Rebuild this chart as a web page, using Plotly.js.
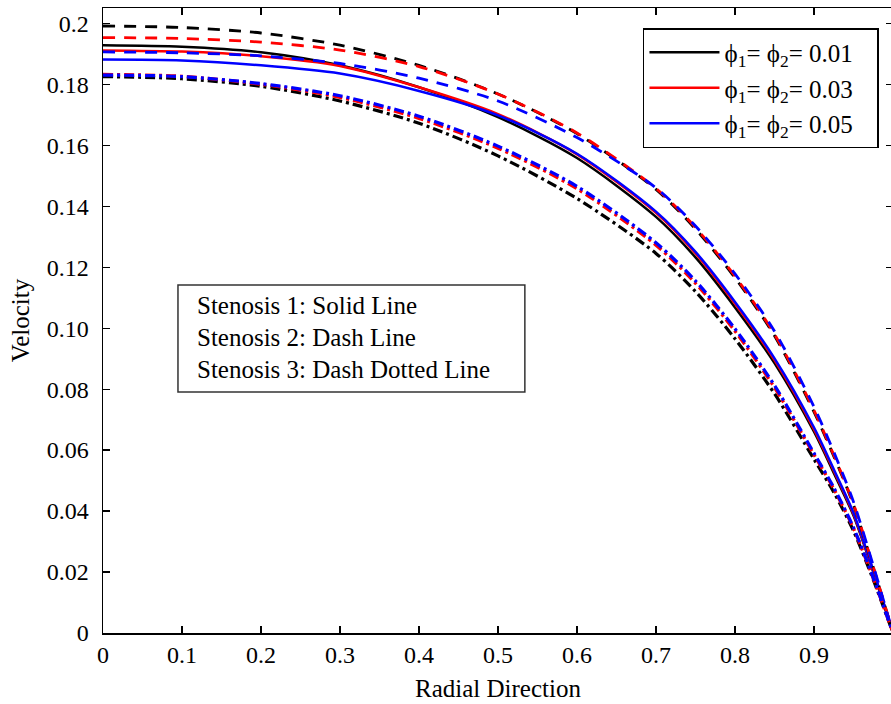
<!DOCTYPE html>
<html>
<head>
<meta charset="utf-8">
<script src="https://cdn.plot.ly/plotly-3.0.1.min.js"></script>
<style>
html,body{margin:0;padding:0;overflow:hidden;background:#fff;}
#chart{width:893px;height:704px;}
</style>
</head>
<body>
<div id="chart"></div>
<script>
// Radial positions (shared by all curves)
const radial = [0, 0.1, 0.2, 0.3, 0.4, 0.5, 0.6, 0.7, 0.75, 0.8, 0.85, 0.9, 0.925, 0.95, 0.975, 1.0];

// Stenosis 1 (solid)
const s1_phi001 = [0.1928, 0.1923, 0.1905, 0.1862, 0.1790, 0.1692, 0.1558, 0.1365, 0.1232, 0.1068, 0.0885, 0.0660, 0.0525, 0.0385, 0.0200, 0];
const s1_phi003 = [0.1911, 0.1907, 0.1892, 0.1860, 0.1790, 0.1702, 0.1570, 0.1378, 0.1245, 0.1080, 0.0895, 0.0668, 0.0532, 0.0390, 0.0203, 0];
const s1_phi005 = [0.1881, 0.1878, 0.1862, 0.1835, 0.1778, 0.1698, 0.1572, 0.1382, 0.1250, 0.1086, 0.0901, 0.0674, 0.0537, 0.0394, 0.0205, 0];

// Stenosis 2 (dash)
const s2_phi001 = [0.1991, 0.1986, 0.1968, 0.1928, 0.1862, 0.1768, 0.1638, 0.1455, 0.1325, 0.1165, 0.0975, 0.0725, 0.0580, 0.0420, 0.0215, 0];
const s2_phi003 = [0.1953, 0.1950, 0.1938, 0.1912, 0.1858, 0.1768, 0.1640, 0.1458, 0.1330, 0.1170, 0.0980, 0.0730, 0.0584, 0.0423, 0.0217, 0];
const s2_phi005 = [0.1906, 0.1903, 0.1893, 0.1868, 0.1820, 0.1745, 0.1625, 0.1460, 0.1335, 0.1178, 0.0990, 0.0742, 0.0594, 0.0430, 0.0221, 0];

// Stenosis 3 (dash-dot)
const s3_phi001 = [0.1825, 0.1818, 0.1793, 0.1745, 0.1672, 0.1565, 0.1425, 0.1245, 0.1120, 0.0965, 0.0785, 0.0570, 0.0462, 0.0335, 0.0175, 0];
const s3_phi003 = [0.1832, 0.1826, 0.1800, 0.1757, 0.1688, 0.1590, 0.1457, 0.1272, 0.1147, 0.0990, 0.0805, 0.0585, 0.0473, 0.0343, 0.0179, 0];
const s3_phi005 = [0.1830, 0.1825, 0.1802, 0.1762, 0.1695, 0.1597, 0.1465, 0.1280, 0.1155, 0.0998, 0.0812, 0.0590, 0.0477, 0.0346, 0.0181, 0];

const legendNames = ['ϕ<sub>1</sub>= ϕ<sub>2</sub>= 0.01', 'ϕ<sub>1</sub>= ϕ<sub>2</sub>= 0.03', 'ϕ<sub>1</sub>= ϕ<sub>2</sub>= 0.05'];
const colors = ['#000000', '#ff0000', '#0000ff'];

const xTickVals = [0, 0.1, 0.2, 0.3, 0.4, 0.5, 0.6, 0.7, 0.8, 0.9];
const xTickText = ['0', '0.1', '0.2', '0.3', '0.4', '0.5', '0.6', '0.7', '0.8', '0.9'];
const yTickVals = [0, 0.02, 0.04, 0.06, 0.08, 0.10, 0.12, 0.14, 0.16, 0.18, 0.2];
const yTickText = ['0', '0.02', '0.04', '0.06', '0.08', '0.10', '0.12', '0.14', '0.16', '0.18', '0.2'];

const noteLines = ['Stenosis 1: Solid Line', 'Stenosis 2: Dash Line', 'Stenosis 3: Dash Dotted Line'];

const groups = [
  {ys: [s1_phi001, s1_phi003, s1_phi005], dash: 'solid', width: 2.5, legend: true},
  {ys: [s2_phi001, s2_phi003, s2_phi005], dash: '12px,9px', width: 2.8, legend: false},
  {ys: [s3_phi001, s3_phi003, s3_phi005], dash: '10px,4px,3px,4px', width: 3.2, legend: false}
];

const traces = [];
groups.forEach(function(g){
  g.ys.forEach(function(y, i){
    traces.push({
      x: radial, y: y, type: 'scatter', mode: 'lines',
      name: legendNames[i] + '\u00a0\u00a0\u00a0',
      showlegend: g.legend,
      line: {color: colors[i], width: g.width, dash: g.dash, shape: 'spline', smoothing: 0.8},
      hoverinfo: 'skip'
    });
  });
});

const FF = 'Liberation Serif';

const noteY = [0.5248, 0.4736, 0.4208];
const annotations = noteLines.map(function(t, i){
  return {xref: 'paper', yref: 'paper', x: 0.1165, y: noteY[i], xanchor: 'left', yanchor: 'middle',
          text: t, showarrow: false, font: {family: FF, size: 25, color: '#000'}};
});

const layout = {
  width: 893, height: 704,
  margin: {l: 103, r: 0, t: 8, b: 71},
  paper_bgcolor: '#fff', plot_bgcolor: '#fff',
  font: {family: FF, color: '#000', size: 24},
  showlegend: true,
  legend: {
    x: 0.6835, y: 0.968, xanchor: 'left', yanchor: 'top',
    bgcolor: '#fff', bordercolor: '#000', borderwidth: 1.5,
    font: {family: FF, size: 25, color: '#000'},
    itemwidth: 70, tracegroupgap: 0
  },
  xaxis: {
    range: [0, 1], showgrid: false, zeroline: false,
    showline: true, linecolor: '#000', linewidth: 1.5, mirror: 'ticks',
    ticks: 'inside', ticklen: 7, tickwidth: 1.2, tickcolor: '#000',
    tickvals: xTickVals, ticktext: xTickText,
    tickfont: {family: FF, size: 24, color: '#000'},
    title: {text: 'Radial Direction', font: {family: FF, size: 25, color: '#000'}, standoff: 12}
  },
  yaxis: {
    range: [0, 0.205], showgrid: false, zeroline: false,
    showline: true, linecolor: '#000', linewidth: 1.5, mirror: 'ticks',
    ticks: 'inside', ticklen: 7, tickwidth: 1.2, tickcolor: '#000',
    tickvals: yTickVals, ticktext: yTickText,
    tickfont: {family: FF, size: 24, color: '#000'},
    ticklabelstandoff: 8,
    title: {text: 'Velocity', font: {family: FF, size: 25, color: '#000'}, standoff: 10}
  },
  shapes: [{
    type: 'rect', xref: 'paper', yref: 'paper',
    x0: 0.0949, x1: 0.534, y0: 0.3856, y1: 0.5568,
    line: {color: '#333', width: 1.5}, fillcolor: 'rgba(255,255,255,0)'
  }],
  annotations: annotations
};

Plotly.newPlot('chart', traces, layout, {displayModeBar: false, staticPlot: true});
</script>
</body>
</html>
